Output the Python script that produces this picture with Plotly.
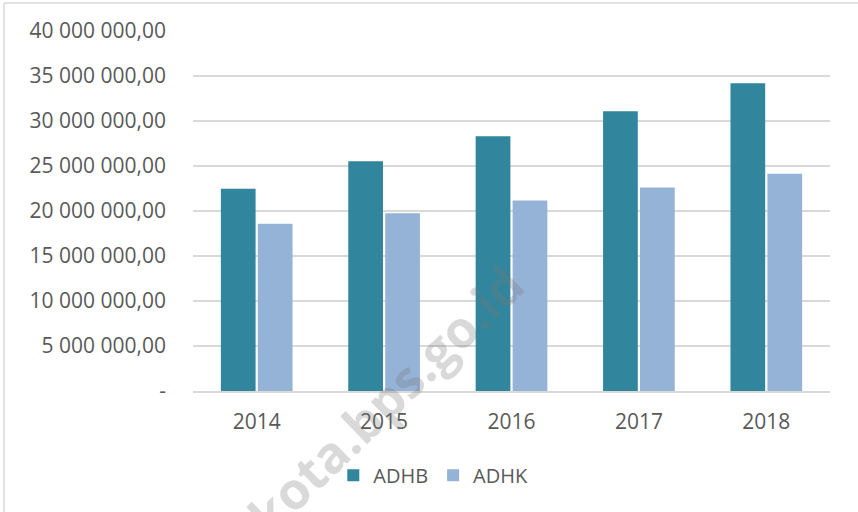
import plotly.graph_objects as go

years = ["2014", "2015", "2016", "2017", "2018"]
adhb = [22470000, 25530000, 28310000, 31090000, 34200000]
adhk = [18580000, 19760000, 21170000, 22610000, 24130000]
tick_vals = [0, 5000000, 10000000, 15000000, 20000000, 25000000, 30000000, 35000000, 40000000]
tick_text = ["-", "5 000 000,00", "10 000 000,00", "15 000 000,00", "20 000 000,00",
             "25 000 000,00", "30 000 000,00", "35 000 000,00", "40 000 000,00"]

FONT = "Open Sans"
GRAY = "#595959"
FS = 21

fig = go.Figure()
fig.add_trace(go.Bar(name="ADHB", x=years, y=adhb, marker=dict(color="#31859C", line=dict(width=0))))
fig.add_trace(go.Bar(name="ADHK", x=years, y=adhk, marker=dict(color="#95B3D7", line=dict(width=0))))

fig.update_layout(
    width=858, height=512,
    margin=dict(l=193, r=28, t=31, b=121, autoexpand=False),
    paper_bgcolor="white", plot_bgcolor="white",
    barmode="group", bargap=0.42, bargroupgap=0.06,
    font=dict(family=FONT, size=FS, color=GRAY),
    legend=dict(orientation="h", xref="container", yref="container", x=0.505, y=0.072,
                xanchor="center", yanchor="middle", font=dict(size=20, color=GRAY),
                itemwidth=30, tracegroupgap=0),
    showlegend=True,
)
fig.update_yaxes(range=[0, 40000000], tickvals=tick_vals, ticktext=tick_text,
                 showgrid=True, gridcolor="#d9d9d9", gridwidth=1.5, zeroline=False,
                 showline=False, ticks="", ticklabelstandoff=26, tickfont=dict(size=FS, color=GRAY))
fig.update_xaxes(showline=True, linecolor="#d9d9d9", linewidth=1.5, ticks="",
                 ticklabelstandoff=11, tickfont=dict(size=FS, color=GRAY))

# chart border (left and top edges visible)
fig.add_shape(type="line", xref="paper", yref="paper", x0=-189/637, x1=-189/637, y0=-1, y1=(512-3-121)/360,
              line=dict(color="#d9d9d9", width=1.5))
fig.add_shape(type="line", xref="paper", yref="paper", x0=-189/637, x1=1.2, y0=(512-3-121)/360, y1=(512-3-121)/360,
              line=dict(color="#d9d9d9", width=1.5))

# watermark
fig.add_annotation(text="<b>kota.bps.go.id</b>", xref="paper", yref="paper",
                   x=(385-193)/637, y=(391-399)/360, xanchor="center", yanchor="middle",
                   showarrow=False, textangle=-44,
                   font=dict(family=FONT, size=51, color="rgba(120,120,120,0.28)"))

fig.write_html("out.html", config={"displayModeBar": False},
               post_script="document.body.style.margin='0';document.body.style.overflow='hidden';")
